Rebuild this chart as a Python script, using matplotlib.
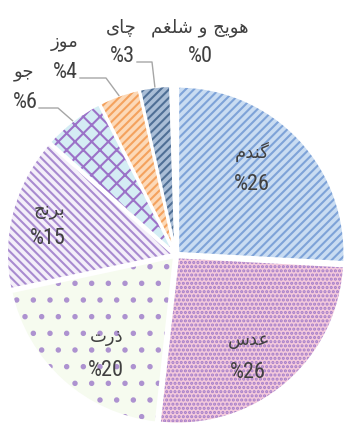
import matplotlib
matplotlib.use("Agg")
import matplotlib.pyplot as plt
import numpy as np

# data
names = ["گندم", "عدس", "ذرت", "برنج", "جو", "موز", "چای", "هویج و شلغم"]
values = [26, 26, 20, 15, 6, 4, 3, 0.5]

face_colors = ["#c9dcf2", "#f3c9dc", "#f6fbef", "#f4eff9", "#d4edf4", "#fcd9b8", "#a9bdd6", "#ffffff"]
hatch_colors = ["#7ea3d8", "#a27cc9", "#ad92d0", "#a98bd0", "#9b72c8", "#f4a25e", "#4f6f96", "#ffffff"]
hatches = ["////", "....", ".", "\\\\\\\\", "xx", "////", "////", ""]

# label layout in pixels from top-left: (name x, name y, pct x, pct y)
label_pos = [(252, 152, 252, 184), (249, 340, 248, 373), (107, 337, 106, 370),
             (49, 210, 48, 239), (24, 72, 25, 102), (65, 42, 65, 72),
             (121, 28, 122, 57), (200, 28, 200, 57)]
# leader lines: (start x, elbow x, y) for the outside labels
leaders = {4: (39, 58, 108), 5: (80, 106, 78), 6: (137, 152, 62)}

# persian letter forms: isolated, final, initial, medial
FORMS = {
    "ا": ("\ufe8d", "\ufe8e"), "د": ("\ufea9", "\ufeaa"), "ذ": ("\ufeab", "\ufeac"),
    "ر": ("\ufead", "\ufeae"), "ز": ("\ufeaf", "\ufeb0"), "و": ("\ufeed", "\ufeee"),
    "ب": ("\ufe8f", "\ufe90", "\ufe91", "\ufe92"), "ت": ("\ufe95", "\ufe96", "\ufe97", "\ufe98"),
    "ج": ("\ufe9d", "\ufe9e", "\ufe9f", "\ufea0"), "س": ("\ufeb1", "\ufeb2", "\ufeb3", "\ufeb4"),
    "ش": ("\ufeb5", "\ufeb6", "\ufeb7", "\ufeb8"), "ع": ("\ufec9", "\ufeca", "\ufecb", "\ufecc"),
    "غ": ("\ufecd", "\ufece", "\ufecf", "\ufed0"), "ل": ("\ufedd", "\ufede", "\ufedf", "\ufee0"),
    "م": ("\ufee1", "\ufee2", "\ufee3", "\ufee4"), "ن": ("\ufee5", "\ufee6", "\ufee7", "\ufee8"),
    "ه": ("\ufee9", "\ufeea", "\ufeeb", "\ufeec"), "ی": ("\ufbfc", "\ufbfd", "\ufbfe", "\ufbff"),
    "گ": ("\ufb92", "\ufb93", "\ufb94", "\ufb95"), "چ": ("\ufb7a", "\ufb7b", "\ufb7c", "\ufb7d"),
}


def shape(text):
    out = []
    for i, ch in enumerate(text):
        if ch not in FORMS:
            out.append(ch)
            continue
        prev = text[i - 1] if i > 0 else ""
        nxt = text[i + 1] if i + 1 < len(text) else ""
        jp = prev in FORMS and len(FORMS[prev]) == 4
        jn = len(FORMS[ch]) == 4 and nxt in FORMS
        f = FORMS[ch]
        if jp and jn:
            out.append(f[3])
        elif jp:
            out.append(f[1])
        elif jn:
            out.append(f[2])
        else:
            out.append(f[0])
    return "".join(reversed(out))


plt.rcParams["hatch.linewidth"] = 1.5
W, H = 345, 424
fig = plt.figure(figsize=(W / 100, H / 100), dpi=100)
ax = fig.add_axes([0, 0, 1, 1])

cx, cy, R = 176, 169, 167
explode = [2.5] * len(values)

wedges, _ = ax.pie(values, startangle=90, counterclock=False, center=(cx, cy), radius=R,
                   explode=explode, colors=face_colors, wedgeprops=dict(linewidth=0))
hw, _ = ax.pie(values, startangle=90, counterclock=False, center=(cx, cy), radius=R,
               explode=explode, colors=face_colors, wedgeprops=dict(fill=False, linewidth=0))
for w, h, c in zip(hw, hatches, hatch_colors):
    w.set_hatch(h)
    w.set_edgecolor(c)
    w.set_linewidth(0)
ax.pie(values, startangle=90, counterclock=False, center=(cx, cy), radius=R,
       explode=explode, colors=face_colors,
       wedgeprops=dict(fill=False, edgecolor="white", linewidth=2))

total = sum(values)
txt = "#404040"
num_font = ["Roboto Condensed", "Liberation Sans Narrow", "Liberation Sans", "DejaVu Sans"]
for i, (w, name) in enumerate(zip(wedges, names)):
    nx, ny, px, py = label_pos[i]
    pct = round(values[i] / total * 100)
    ax.text(nx, H - ny, shape(name), ha="center", va="center", fontsize=13,
            family="DejaVu Sans", color=txt)
    ax.text(px, H - py, "%" + str(pct), ha="center", va="center", fontsize=16,
            family=num_font, stretch="condensed", color=txt)
    if i in leaders:
        sx, ex, ly = leaders[i]
        th = np.deg2rad((w.theta1 + w.theta2) / 2)
        wx = w.center[0] + R * np.cos(th)
        wy = w.center[1] + R * np.sin(th)
        ax.plot([sx, ex, wx], [H - ly, H - ly, wy], color="#a6a6a6", lw=1)

ax.set_xlim(0, W)
ax.set_ylim(0, H)
ax.set_aspect("equal")
ax.axis("off")
fig.savefig("out.png", dpi=100)
